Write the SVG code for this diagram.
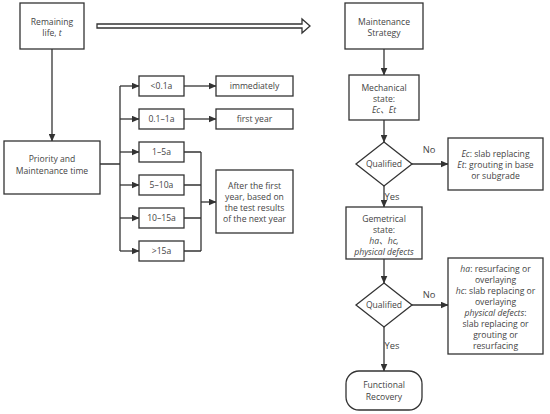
<svg xmlns="http://www.w3.org/2000/svg" width="550" height="414" viewBox="0 0 550 414">
<defs>
<marker id="ah" markerWidth="8" markerHeight="7" refX="7.5" refY="3.5" orient="auto" markerUnits="userSpaceOnUse">
<path d="M0,0 L8,3.5 L0,7 Z" fill="#333"/>
</marker>
<style>
.box{fill:#fff;stroke:#333;stroke-width:1.3}
.ln{fill:none;stroke:#333;stroke-width:1.3}
.ar{fill:none;stroke:#333;stroke-width:1.3;marker-end:url(#ah)}
text{font-family:"Open Sans","Noto Sans","Noto Sans CJK SC",sans-serif;font-size:8.6px;fill:#444;text-anchor:middle}
.lbl{font-size:9.4px}
.i{font-style:italic}
</style>
</defs>
<rect width="550" height="414" fill="#fff"/>
<g id="connectors">
<polygon class="box" points="97,24 302,24 302,19 310,26 302,33 302,28 97,28"/>
<path class="ar" d="M52,49 V141"/>
<path class="ln" d="M100,164 H120 M120,86 V251"/>
<path class="ar" d="M120,86 H139"/>
<path class="ar" d="M120,119 H139"/>
<path class="ar" d="M120,152 H139"/>
<path class="ar" d="M120,185 H139"/>
<path class="ar" d="M120,218 H139"/>
<path class="ar" d="M120,251 H139"/>
<path class="ar" d="M184,86 H216"/>
<path class="ar" d="M184,119 H216"/>
<path class="ln" d="M184,152 H201 M184,185 H201 M184,218 H201 M184,251 H201 M201,152 V251"/>
<path class="ar" d="M201,202 H216"/>
<path class="ar" d="M384,49 V75"/>
<path class="ar" d="M384,120 V142"/>
<path class="ar" d="M412,164 H448"/>
<path class="ar" d="M384,186 V207"/>
<path class="ar" d="M384,259 V283"/>
<path class="ar" d="M412,305 H448"/>
<path class="ar" d="M384,327 V371"/>
<text class="lbl" x="429" y="153">No</text>
<text class="lbl" x="392" y="200">Yes</text>
<text class="lbl" x="429" y="298">No</text>
<text class="lbl" x="392" y="349">Yes</text>
</g>
<g id="remaining-life">
<rect class="box" x="20" y="3" width="64" height="46"/>
<text x="52" y="25">Remaining</text>
<text x="52" y="36">life, <tspan class="i">t</tspan></text>
</g>
<g id="priority">
<rect class="box" x="4" y="141" width="96" height="53"/>
<text x="52" y="162">Priority and</text>
<text x="52" y="174">Maintenance time</text>
</g>
<g id="r1"><rect class="box" x="139" y="76" width="45" height="20"/><text x="161.5" y="89">&lt;0.1a</text></g>
<g id="r2"><rect class="box" x="139" y="109" width="45" height="20"/><text x="161.5" y="122">0.1–1a</text></g>
<g id="r3"><rect class="box" x="139" y="142" width="45" height="20"/><text x="161.5" y="155">1–5a</text></g>
<g id="r4"><rect class="box" x="139" y="175" width="45" height="20"/><text x="161.5" y="188">5–10a</text></g>
<g id="r5"><rect class="box" x="139" y="208" width="45" height="20"/><text x="161.5" y="221">10–15a</text></g>
<g id="r6"><rect class="box" x="139" y="241" width="45" height="20"/><text x="161.5" y="254">&gt;15a</text></g>
<g id="immediately"><rect class="box" x="216" y="76" width="77" height="20"/><text x="254.5" y="89">immediately</text></g>
<g id="first-year"><rect class="box" x="216" y="109" width="77" height="20"/><text x="254.5" y="122">first year</text></g>
<g id="after-first-year">
<rect class="box" x="216" y="170" width="77" height="63"/>
<text x="254.5" y="189">After the first</text>
<text x="254.5" y="200">year, based on</text>
<text x="254.5" y="211">the test results</text>
<text x="254.5" y="222">of the next year</text>
</g>
<g id="strategy">
<rect class="box" x="345" y="3" width="78" height="46"/>
<text x="384" y="25">Maintenance</text>
<text x="384" y="36">Strategy</text>
</g>
<g id="mechanical">
<rect class="box" x="349" y="75" width="70" height="45"/>
<text x="384" y="91">Mechanical</text>
<text x="384" y="102">state:</text>
<text x="384" y="113" class="i">Ec、Et</text>
</g>
<g id="qualified1">
<polygon class="box" points="384,142 412,164 384,186 356,164"/>
<text x="384" y="167">Qualified</text>
</g>
<g id="mech-fix">
<rect class="box" x="448" y="138" width="95" height="52"/>
<text x="495.5" y="157"><tspan class="i">Ec</tspan>: slab replacing</text>
<text x="495.5" y="168"><tspan class="i">Et</tspan>: grouting in base</text>
<text x="495.5" y="179">or subgrade</text>
</g>
<g id="geometrical">
<rect class="box" x="346" y="207" width="76" height="52"/>
<text x="384" y="222">Gemetrical</text>
<text x="384" y="233">state:</text>
<text x="384" y="244" class="i">ha、hc,</text>
<text x="384" y="255" class="i">physical defects</text>
</g>
<g id="qualified2">
<polygon class="box" points="384,283 412,305 384,327 356,305"/>
<text x="384" y="308">Qualified</text>
</g>
<g id="geo-fix">
<rect class="box" x="448" y="258" width="95" height="96"/>
<text x="495.5" y="272"><tspan class="i">ha</tspan>: resurfacing or</text>
<text x="495.5" y="283">overlaying</text>
<text x="495.5" y="294"><tspan class="i">hc</tspan>: slab replacing or</text>
<text x="495.5" y="305">overlaying</text>
<text x="495.5" y="316"><tspan class="i">physical defects</tspan>:</text>
<text x="495.5" y="327">slab replacing or</text>
<text x="495.5" y="338">grouting or</text>
<text x="495.5" y="349">resurfacing</text>
</g>
<g id="recovery">
<rect class="box" x="346" y="371" width="76" height="39" rx="13" ry="13"/>
<text x="384" y="388">Functional</text>
<text x="384" y="400">Recovery</text>
</g>
</svg>
